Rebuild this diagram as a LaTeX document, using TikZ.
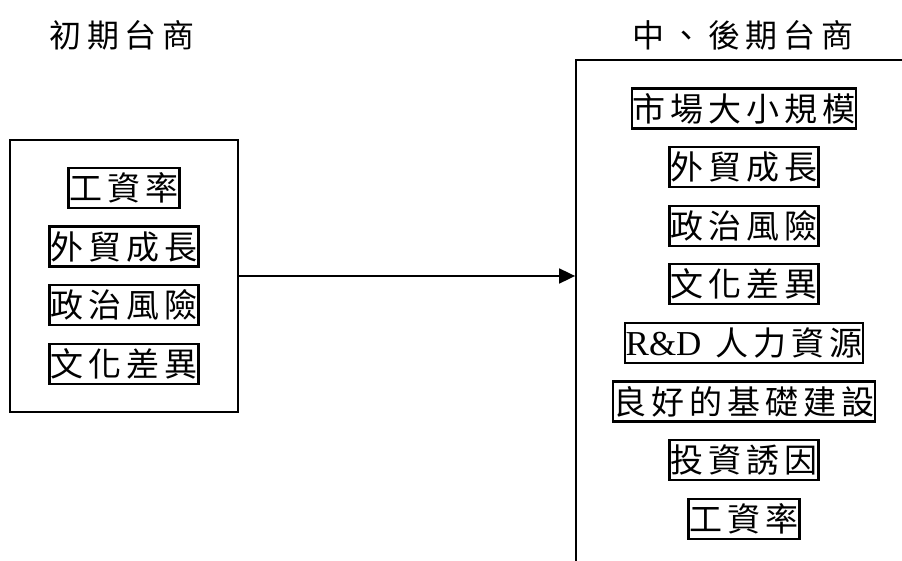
\documentclass[tikz,border=0pt]{standalone}
\usepackage{fontspec}
\setmainfont{Liberation Serif}
\newfontfamily\cjk[LetterSpace=15]{Noto Sans CJK TC}
\newfontfamily\cjktitle[LetterSpace=18]{Noto Sans CJK TC}
\usetikzlibrary{positioning,arrows.meta}

\begin{document}
\begin{tikzpicture}[x=1pt,y=1pt,node distance=16.4pt,
  heading/.style={font=\cjktitle\fontsize{32}{32}\selectfont},
  panel/.style={draw,line width=1.8pt},
  factor/.style={draw,line width=2.2pt,inner xsep=1pt,inner ysep=0pt,
    minimum height=40pt,font=\cjk\fontsize{33}{33}\selectfont}]
\clip (0,0) rectangle (902,560);
\node[heading] (early title) at (122,525) {初期台商};
\node[heading] (late title) at (743,525) {中、後期台商};
\node[panel,minimum width=228pt,minimum height=272pt] (early) at (124,284) {};
\node[panel,minimum width=360pt,minimum height=540pt] (late) at (756,230) {};

% early period
\node[factor] (e1) at (124,372) {工資率};
\node[factor,below=of e1] (e2) {外貿成長};
\node[factor,below=of e2] (e3) {政治風險};
\node[factor,below=of e3] (e4) {文化差異};

% middle and late period
\node[factor] (l1) at (744,451.5) {市場大小規模};
\node[factor,below=of l1] (l2) {外貿成長};
\node[factor,below=of l2] (l3) {政治風險};
\node[factor,below=of l3] (l4) {文化差異};
\node[factor,below=of l4] (l5) {{\rmfamily\fontsize{35}{35}\selectfont R\&D}\hspace{14pt}人力資源};
\node[factor,below=of l5] (l6) {良好的基礎建設};
\node[factor,below=of l6] (l7) {投資誘因};
\node[factor,below=of l7] (l8) {工資率};

\draw[line width=1.8pt,-{Triangle[length=16pt,width=15pt]}] (early.east) -- (early.east -| late.west);
\end{tikzpicture}
\end{document}
